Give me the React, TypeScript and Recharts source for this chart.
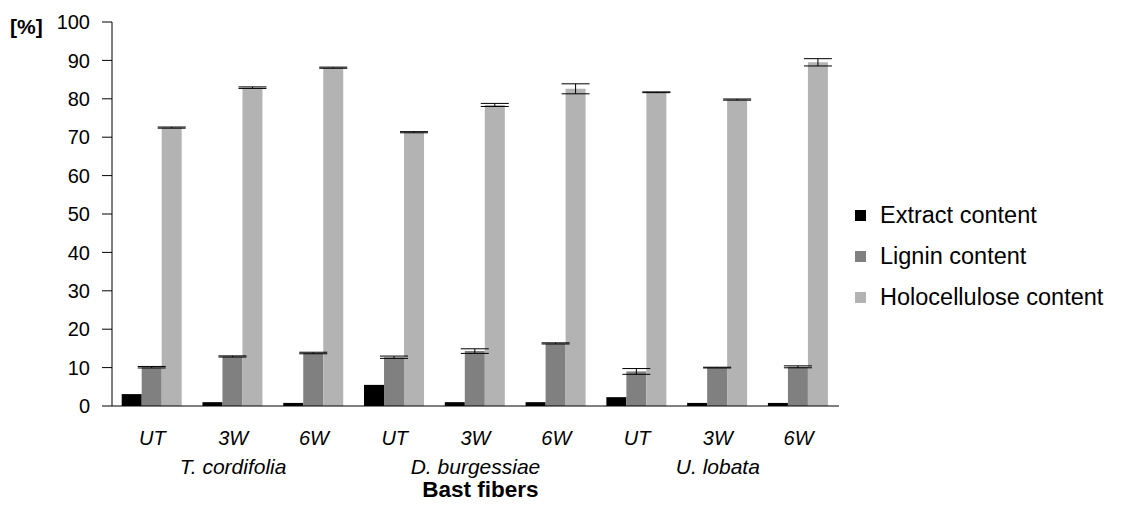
import React from 'react';
import { BarChart, Bar, XAxis, YAxis, ErrorBar, Legend, Label } from 'recharts';

// treatments per fiber, species shown under the middle bar of each group
const treatments = ['UT', '3W', '6W', 'UT', '3W', '6W', 'UT', '3W', '6W'];
const species = ['T. cordifolia', 'T. cordifolia', 'T. cordifolia', 'D. burgessiae', 'D. burgessiae', 'D. burgessiae', 'U. lobata', 'U. lobata', 'U. lobata'];

const extract = [3.1, 1.0, 0.8, 5.5, 1.0, 1.0, 2.3, 0.8, 0.8];
const lignin = [10.1, 12.9, 13.8, 12.7, 14.3, 16.3, 9.0, 10.0, 10.2];
const ligninErr = [0.2, 0.15, 0.2, 0.3, 0.6, 0.15, 0.75, 0.1, 0.25];
const holo = [72.5, 82.9, 88.1, 71.3, 78.4, 82.6, 81.7, 79.8, 89.5];
const holoErr = [0.15, 0.2, 0.15, 0.15, 0.4, 1.3, 0.1, 0.15, 0.95];

const yTicks = [0, 10, 20, 30, 40, 50, 60, 70, 80, 90, 100];

const series = [
  { key: 'extract', name: 'Extract content', color: '#000000' },
  { key: 'lignin', name: 'Lignin content', color: '#808080' },
  { key: 'holo', name: 'Holocellulose content', color: '#b3b3b3' },
];

const data = treatments.map((t, i) => ({
  id: i,
  treatment: t,
  species: species[i],
  extract: extract[i],
  lignin: lignin[i],
  ligninErr: ligninErr[i],
  holo: holo[i],
  holoErr: holoErr[i],
}));

const FONT = 'Arial, "Liberation Sans", sans-serif';

const CategoryTick = (props: any) => {
  const { x, y, payload } = props;
  const row = data[payload.value];
  const showSpecies = payload.value % 3 === 1;
  return (
    <g>
      <text x={x} y={y + 37} textAnchor="middle" fontSize={20} fontStyle="italic" fill="#000" fontFamily={FONT}>
        {row.treatment}
      </text>
      {showSpecies && (
        <text x={x} y={y + 66} textAnchor="middle" fontSize={21} fontStyle="italic" fill="#000" fontFamily={FONT}>
          {row.species}
        </text>
      )}
    </g>
  );
};

const LegendList = () => (
  <div style={{ fontFamily: FONT, fontSize: 23.5, color: '#000' }}>
    {series.map((s) => (
      <div key={s.key} style={{ height: 41, display: 'flex', alignItems: 'center', whiteSpace: 'nowrap' }}>
        <span style={{ width: 11, height: 11, background: s.color, display: 'inline-block', marginRight: 14 }} />
        <span>{s.name}</span>
      </div>
    ))}
  </div>
);

export default function App() {
  return (
    <div style={{ fontFamily: FONT }}>
      <BarChart
        width={1112}
        height={497}
        data={data}
        margin={{ top: 14, right: 16, bottom: 0, left: 0 }}
        barCategoryGap="12%"
        barGap={0}
      >
        <XAxis
          dataKey="id"
          height={99}
          tickLine={false}
          tickSize={0}
          axisLine={{ stroke: '#000' }}
          tick={<CategoryTick />}
          interval={0}
        >
          <Label value="Bast fibers" position="insideBottom" offset={8} dx={5} fontSize={22.5} fontWeight="bold" fill="#000" fontFamily={FONT} />
        </XAxis>
        <XAxis xAxisId="top" dataKey="id" orientation="top" height={0} tick={false} tickLine={false} axisLine={{ stroke: '#000' }} />
        <YAxis
          width={104}
          domain={[0, 100]}
          ticks={yTicks}
          interval={0}
          tickSize={10}
          tickMargin={12}
          tickLine={{ stroke: '#000' }}
          axisLine={{ stroke: '#000' }}
          tick={{ fill: '#000', fontSize: 20, fontFamily: FONT }}
        >
          <Label
            content={() => (
              <text x={2} y={26} fontSize={21} fontWeight="bold" fill="#000" fontFamily={FONT}>
                [%]
              </text>
            )}
          />
        </YAxis>
        <YAxis yAxisId="right" orientation="right" width={0} domain={[0, 100]} tick={false} tickLine={false} axisLine={{ stroke: '#000' }} />
        <Legend
          layout="horizontal"
          verticalAlign="middle"
          align="right"
          content={<LegendList />}
          wrapperStyle={{ left: 847, top: 187, width: 265 }}
        />
        <Bar dataKey="extract" name="Extract content" fill="#000000" isAnimationActive={false} />
        <Bar dataKey="lignin" name="Lignin content" fill="#808080" isAnimationActive={false}>
          <ErrorBar dataKey="ligninErr" width={14} stroke="#000" strokeWidth={1} />
        </Bar>
        <Bar dataKey="holo" name="Holocellulose content" fill="#b3b3b3" isAnimationActive={false}>
          <ErrorBar dataKey="holoErr" width={14} stroke="#000" strokeWidth={1} />
        </Bar>
      </BarChart>
    </div>
  );
}
